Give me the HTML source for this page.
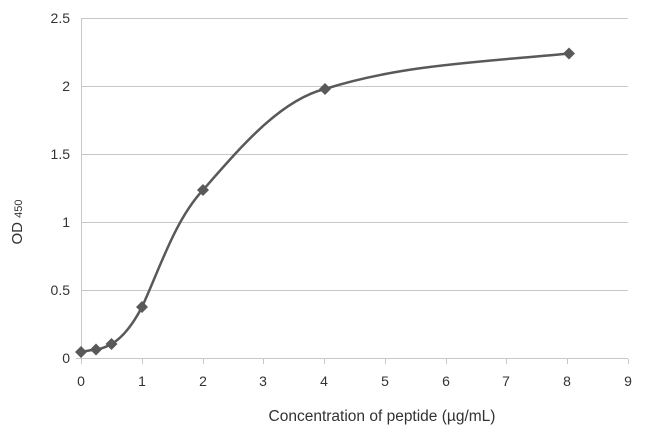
<!DOCTYPE html>
<html><head><style>
body{margin:0;background:#fff;}
svg text{font-family:"Liberation Sans",sans-serif;fill:#333;}
</style></head><body>
<svg width="650" height="443" viewBox="0 0 650 443">
<g stroke="#c8c8c8" stroke-width="1">
<line x1="81" y1="18.5" x2="628" y2="18.5"/>
<line x1="81" y1="86.5" x2="628" y2="86.5"/>
<line x1="81" y1="154.5" x2="628" y2="154.5"/>
<line x1="81" y1="222.5" x2="628" y2="222.5"/>
<line x1="81" y1="290.5" x2="628" y2="290.5"/>
<line x1="81.5" y1="18" x2="81.5" y2="359"/>
<line x1="76" y1="358.5" x2="628" y2="358.5"/>
<line x1="81.5" y1="359" x2="81.5" y2="364"/>
<line x1="142.5" y1="359" x2="142.5" y2="364"/>
<line x1="203.5" y1="359" x2="203.5" y2="364"/>
<line x1="263.5" y1="359" x2="263.5" y2="364"/>
<line x1="324.5" y1="359" x2="324.5" y2="364"/>
<line x1="385.5" y1="359" x2="385.5" y2="364"/>
<line x1="446.5" y1="359" x2="446.5" y2="364"/>
<line x1="506.5" y1="359" x2="506.5" y2="364"/>
<line x1="567.5" y1="359" x2="567.5" y2="364"/>
<line x1="628.5" y1="359" x2="628.5" y2="364"/>
</g>
<g font-size="14" text-anchor="end">
<text x="70" y="23">2.5</text><text x="70" y="91">2</text><text x="70" y="159">1.5</text>
<text x="70" y="227">1</text><text x="70" y="295">0.5</text><text x="70" y="363">0</text>
</g>
<g font-size="14" text-anchor="middle">
<text x="81" y="386">0</text><text x="142" y="386">1</text><text x="203" y="386">2</text>
<text x="263" y="386">3</text><text x="324" y="386">4</text><text x="385" y="386">5</text>
<text x="446" y="386">6</text><text x="506" y="386">7</text><text x="567" y="386">8</text>
<text x="628" y="386">9</text>
</g>
<text x="382" y="421" font-size="15.5" text-anchor="middle">Concentration of  peptide (µg/mL)</text>
<text transform="translate(22,222) rotate(-90)" font-size="15" text-anchor="middle">OD <tspan font-size="11">450</tspan></text>
<path d="M81,352 C86,351 91,350 96,349.5 C101,349 106,347 111.5,344 C122,338 132,326 142,307 C160,268 175,220 203,190 C240,148 280,100 325,89 C400,65 480,62 569,53.5" fill="none" stroke="#595959" stroke-width="2.5"/>
<g fill="#595959">
<path d="M81,346 l6,6 l-6,6 l-6,-6z"/>
<path d="M96,343.5 l6,6 l-6,6 l-6,-6z"/>
<path d="M111.5,338 l6,6 l-6,6 l-6,-6z"/>
<path d="M142,301 l6,6 l-6,6 l-6,-6z"/>
<path d="M203,184 l6,6 l-6,6 l-6,-6z"/>
<path d="M325,83 l6,6 l-6,6 l-6,-6z"/>
<path d="M569,47.5 l6,6 l-6,6 l-6,-6z"/>
</g>
</svg>
</body></html>
